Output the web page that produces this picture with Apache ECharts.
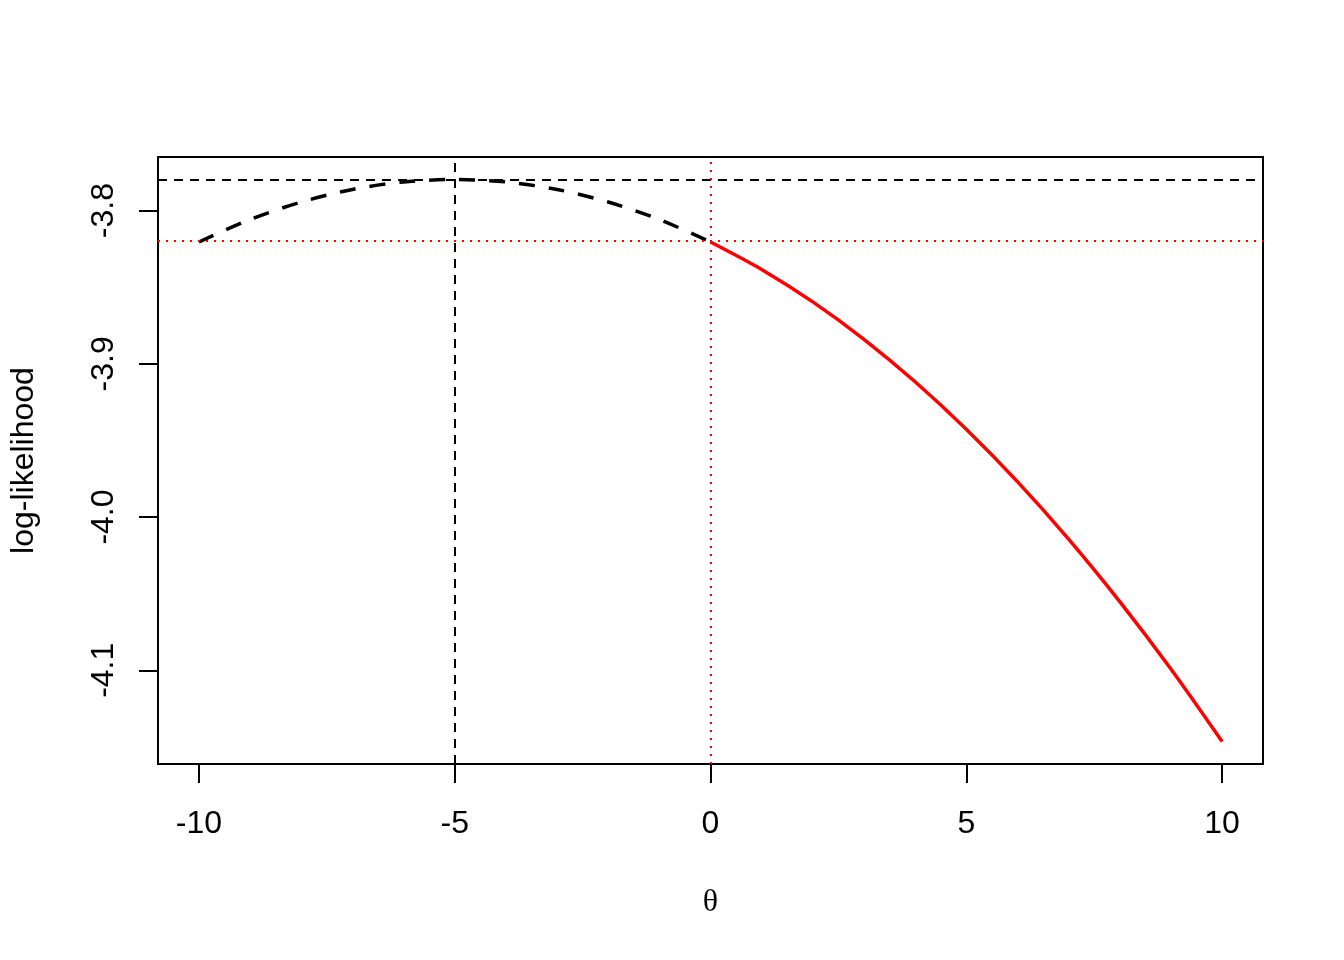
<!DOCTYPE html>
<html>
<head>
<meta charset="utf-8">
<script src="https://cdn.jsdelivr.net/npm/echarts@6/dist/echarts.min.js"></script>
<style>
html,body{margin:0;padding:0;background:#fff;}
#chart{width:1344px;height:960px;}
</style>
</head>
<body>
<div id="chart"></div>
<script>
// Data
var thetaLeft = [-10, -9, -8, -7, -6, -5, -4, -3, -2, -1, 0];
var llLeft = [-3.8205, -3.8058, -3.7944, -3.7862, -3.7813, -3.7797, -3.7813, -3.7862, -3.7944, -3.8058, -3.8205];
var thetaRight = [0, 1, 2, 3, 4, 5, 6, 7, 8, 9, 10];
var llRight = [-3.8205, -3.8384, -3.8596, -3.8840, -3.9117, -3.9427, -3.9769, -4.0144, -4.0552, -4.0992, -4.1465];
var xTicks = [-10, -5, 0, 5, 10];
var yTicks = [-4.1, -4.0, -3.9, -3.8];
var thetaHat = -5;      // MLE (black dashed vertical)
var llMax = -3.7797;    // max log-likelihood (black dashed horizontal)
var theta0 = 0;         // null value (red dotted vertical)
var ll0 = -3.8205;      // log-likelihood at null (red dotted horizontal)

var allY = llLeft.concat(llRight);
var yLo = Math.min.apply(null, allY), yHi = Math.max.apply(null, allY);
var yPad = (yHi - yLo) * 0.04;
var xLo = -10, xHi = 10, xPad = (xHi - xLo) * 0.04;

var chart = echarts.init(document.getElementById('chart'), null, {renderer: 'canvas'});
var font = 'Liberation Sans, Arial, sans-serif';
chart.setOption({
  animation: false,
  backgroundColor: '#fff',
  grid: {left: 157, right: 81, top: 157, bottom: 196, show: true, borderColor: '#000', borderWidth: 2, backgroundColor: 'transparent'},
  xAxis: {
    type: 'value', min: xLo - xPad, max: xHi + xPad,
    splitLine: {show: false},
    axisLine: {show: false, onZero: false},
    axisTick: {show: true, length: 19, inside: false, customValues: xTicks, lineStyle: {color: '#000', width: 2}},
    axisLabel: {show: true, customValues: xTicks, margin: 44, color: '#000', fontSize: 32, fontFamily: font, lineHeight: 32,
      formatter: function (v) { return String(v); }},
    name: 'θ', nameLocation: 'middle', nameGap: 123,
    nameTextStyle: {fontFamily: 'Liberation Serif, Times New Roman, serif', fontSize: 32, color: '#000'}
  },
  yAxis: {
    type: 'value', min: yLo - yPad, max: yHi + yPad,
    splitLine: {show: false},
    axisLine: {show: false, onZero: false},
    axisTick: {show: true, length: 19, inside: false, customValues: yTicks, lineStyle: {color: '#000', width: 2}},
    axisLabel: {show: true, customValues: yTicks, rotate: 90, margin: 38, color: '#000', fontSize: 32, fontFamily: font,
      align: 'center', verticalAlign: 'bottom',
      formatter: function (v) { return v.toFixed(1); }},
    name: 'log-likelihood', nameLocation: 'middle', nameGap: 118, nameRotate: 90,
    nameTextStyle: {fontFamily: font, fontSize: 32, color: '#000'}
  },
  series: [
    {
      type: 'line', data: thetaLeft.map(function (t, i) { return [t, llLeft[i]]; }),
      showSymbol: false, smooth: 0.3,
      lineStyle: {color: '#000', width: 3.5, type: [16, 14], cap: 'butt'},
      markLine: {
        silent: true, symbol: ['none', 'none'], label: {show: false},
        data: [
          {yAxis: llMax, lineStyle: {color: '#000', width: 2, type: [9, 7]}},
          {xAxis: thetaHat, lineStyle: {color: '#000', width: 2, type: [9, 7]}},
          {yAxis: ll0, lineStyle: {color: '#ff0000', width: 2, type: [2, 6]}},
          {xAxis: theta0, lineStyle: {color: '#ff0000', width: 2, type: [2, 6]}}
        ]
      },
      z: 3
    },
    {
      type: 'line', data: thetaRight.map(function (t, i) { return [t, llRight[i]]; }),
      showSymbol: false, smooth: 0.3,
      lineStyle: {color: '#ff0000', width: 3.5, type: 'solid'},
      z: 3
    }
  ]
});
</script>
</body>
</html>
